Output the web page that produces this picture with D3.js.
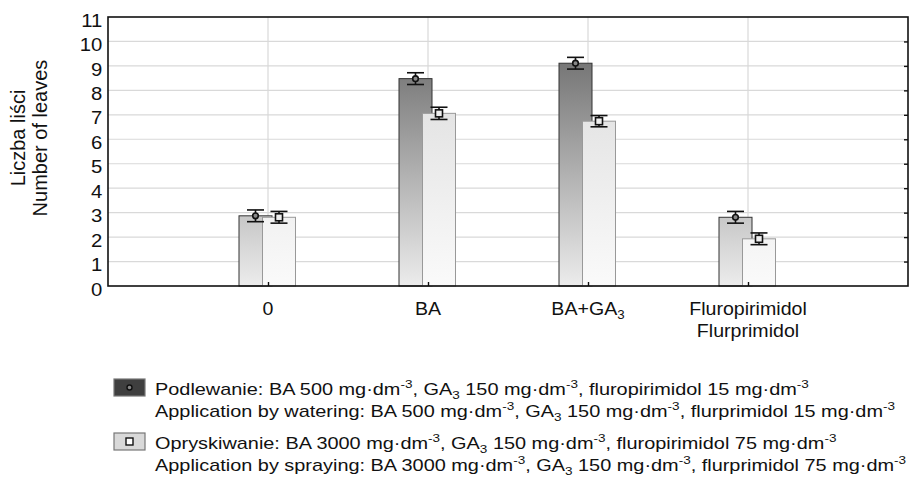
<!DOCTYPE html>
<html>
<head>
<meta charset="utf-8">
<script src="https://cdn.jsdelivr.net/npm/d3@7"></script>
<style>
  body { margin: 0; background: #fff; }
  svg { font-family: "Liberation Sans", Arial, sans-serif; fill: #111; }
</style>
</head>
<body>
<svg id="chart" width="910" height="478"></svg>
<script>
// Data
const categories = [["0"], ["BA"], ["BA+GA_3"], ["Fluropirimidol", "Flurprimidol"]];
const watering = [2.87, 8.48, 9.11, 2.81];
const wateringErr = [0.24, 0.24, 0.24, 0.24];
const spraying = [2.81, 7.06, 6.74, 1.93];
const sprayingErr = [0.24, 0.25, 0.23, 0.24];
const yTicks = [0, 1, 2, 3, 4, 5, 6, 7, 8, 9, 10, 11];
const yTitle = ["Liczba liści", "Number of leaves"];
const legendLabels = [
    ["Podlewanie: BA 500 mg·dm^-3, GA_3 150 mg·dm^-3, fluropirimidol 15 mg·dm^-3",
     "Application by watering: BA 500 mg·dm^-3, GA_3 150 mg·dm^-3, flurprimidol 15 mg·dm^-3"],
    ["Opryskiwanie: BA 3000 mg·dm^-3, GA_3 150 mg·dm^-3, fluropirimidol 75 mg·dm^-3",
     "Application by spraying: BA 3000 mg·dm^-3, GA_3 150 mg·dm^-3, flurprimidol 75 mg·dm^-3"]
];

const plot = { left: 108, right: 908, top: 17, bottom: 286 };
const svg = d3.select("#chart");

// writes text with ^sup and _sub parts as tspans
function richText(sel, str, size) {
    const parts = str.split(/(\^-?\d+|_\d+)/).filter(p => p.length);
    let shift = 0;
    parts.forEach(p => {
        let fs = size, txt = p, target = 0;
        if (p[0] === "^") { target = -size * 0.42; fs = size * 0.68; txt = p.slice(1); }
        else if (p[0] === "_") { target = size * 0.22; fs = size * 0.68; txt = p.slice(1); }
        const dy = target - shift;
        shift = target;
        sel.append("tspan").attr("dy", dy).style("font-size", fs + "px").text(txt);
    });
}

// scales
const x = d3.scaleLinear().domain([0, categories.length + 1]).range([plot.left, plot.right]);
const y = d3.scaleLinear().domain([0, 11]).range([plot.bottom, plot.top]);

// gradients
const defs = svg.append("defs");
function grad(id, top, bottom) {
    const g = defs.append("linearGradient").attr("id", id)
        .attr("gradientUnits", "userSpaceOnUse")
        .attr("x1", 0).attr("x2", 0).attr("y1", y(11)).attr("y2", y(0));
    g.append("stop").attr("offset", 0).attr("stop-color", top);
    g.append("stop").attr("offset", 1).attr("stop-color", bottom);
}
grad("gDark", "#5e5e5e", "#ececec");
grad("gLight", "#d8d8d8", "#fafafa");

// grid
svg.append("g").selectAll("line").data(yTicks.slice(1, -1)).join("line")
    .attr("x1", plot.left).attr("x2", plot.right)
    .attr("y1", d => y(d)).attr("y2", d => y(d))
    .attr("stroke", "#d9d9d9").attr("stroke-width", 1.2);
svg.append("g").selectAll("line").data(categories).join("line")
    .attr("x1", (d, i) => x(i + 1)).attr("x2", (d, i) => x(i + 1))
    .attr("y1", plot.top).attr("y2", plot.bottom)
    .attr("stroke", "#d9d9d9").attr("stroke-width", 1.2);

// bars
const barW = 33;
const series = [
    { vals: watering, err: wateringErr, off: -29, fill: "url(#gDark)", stroke: "#333", marker: "circle" },
    { vals: spraying, err: sprayingErr, off: -5.5, fill: "url(#gLight)", stroke: "#999", marker: "square" }
];
series.forEach(s => {
    svg.append("g").selectAll("rect").data(s.vals).join("rect")
        .attr("x", (d, i) => x(i + 1) + s.off)
        .attr("y", d => y(d))
        .attr("width", barW)
        .attr("height", d => y(0) - y(d))
        .attr("fill", s.fill)
        .attr("stroke", s.stroke).attr("stroke-width", 1);
});

// error bars and markers
series.forEach(s => {
    const g = svg.append("g").attr("stroke", "#111").attr("stroke-width", 1.6).attr("fill", "none");
    s.vals.forEach((v, i) => {
        const cx = x(i + 1) + s.off + barW / 2;
        const hi = y(v + s.err[i]), lo = y(v - s.err[i]);
        g.append("line").attr("x1", cx).attr("x2", cx).attr("y1", hi).attr("y2", lo);
        g.append("line").attr("x1", cx - 8.5).attr("x2", cx + 8.5).attr("y1", hi).attr("y2", hi);
        g.append("line").attr("x1", cx - 8.5).attr("x2", cx + 8.5).attr("y1", lo).attr("y2", lo);
        if (s.marker === "circle") {
            g.append("circle").attr("cx", cx).attr("cy", y(v)).attr("r", 2.8).attr("fill", "#888");
        } else {
            g.append("rect").attr("x", cx - 3.5).attr("y", y(v) - 3.5).attr("width", 7).attr("height", 7).attr("fill", "#eee");
        }
    });
});

// frame and axes
svg.append("rect")
    .attr("x", plot.left).attr("y", plot.top)
    .attr("width", plot.right - plot.left).attr("height", plot.bottom - plot.top)
    .attr("fill", "none").attr("stroke", "#111").attr("stroke-width", 1.6);

// the source picture is stretched sideways, so text gets a horizontal scale
const sx = 1.16;

const yAxis = svg.append("g").attr("transform", `translate(${plot.left},0)`)
    .call(d3.axisLeft(y).tickValues(yTicks).tickSize(0).tickPadding(5));
yAxis.select(".domain").remove();
yAxis.selectAll("text").style("font-size", "17.5px").attr("dy", "0.52em")
    .attr("fill", "#111").attr("transform", `scale(${sx},1)`);

const yRight = svg.append("g").attr("transform", `translate(${plot.right},0)`)
    .call(d3.axisLeft(y).tickValues(yTicks.slice(1, -1)).tickSize(4).tickFormat(""));
yRight.select(".domain").remove();
yRight.selectAll("line").attr("stroke", "#111").attr("stroke-width", 1.4);

const xAxis = svg.append("g").attr("transform", `translate(0,${plot.bottom})`)
    .call(d3.axisTop(x).tickValues(categories.map((d, i) => i + 1)).tickSize(4).tickFormat(""));
xAxis.select(".domain").remove();
xAxis.selectAll("line").attr("stroke", "#111").attr("stroke-width", 1.4);

// category labels
categories.forEach((lines, i) => {
    lines.forEach((ln, j) => {
        const t = svg.append("text")
            .attr("transform", `translate(${x(i + 1)},${315 + j * 22}) scale(1.12,1)`)
            .attr("text-anchor", "middle").style("font-size", "17.5px");
        richText(t, ln, 17.5);
    });
});

// y title
yTitle.forEach((ln, j) => {
    svg.append("text")
        .attr("transform", `translate(${25 + j * 22},138) rotate(-90)`)
        .attr("text-anchor", "middle").style("font-size", "20px")
        .text(ln);
});

// legend
const legTop = [379, 433];
legendLabels.forEach((lines, k) => {
    const s = series[k];
    svg.append("rect").attr("x", 114).attr("y", legTop[k]).attr("width", 31).attr("height", 17)
        .attr("fill", k === 0 ? "#3f3f3f" : "#d9d9d9").attr("stroke", "#777").attr("stroke-width", 1.2);
    const mx = 129.5, my = legTop[k] + 8.5;
    if (s.marker === "circle") {
        svg.append("circle").attr("cx", mx).attr("cy", my).attr("r", 2.5)
            .attr("fill", "#888").attr("stroke", "#111").attr("stroke-width", 1.4);
    } else {
        svg.append("rect").attr("x", mx - 3.5).attr("y", my - 3.5).attr("width", 7).attr("height", 7)
            .attr("fill", "#fff").attr("stroke", "#111").attr("stroke-width", 1.4);
    }
    lines.forEach((ln, j) => {
        const t = svg.append("text")
            .attr("transform", `translate(155,${legTop[k] + 16 + j * 22}) scale(1.17,1)`)
            .style("font-size", "17px");
        richText(t, ln, 17);
    });
});
</script>
</body>
</html>
